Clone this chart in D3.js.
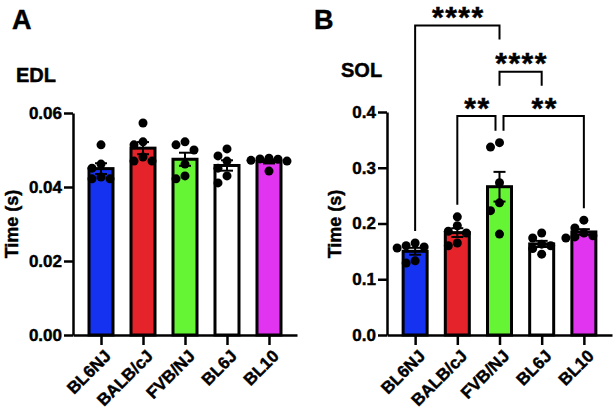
<!DOCTYPE html>
<html><head><meta charset="utf-8">
<script src="https://cdn.jsdelivr.net/npm/d3@7"></script>
<style>
body{margin:0;background:#fff}
text{font-family:"Liberation Sans",Arial,Helvetica,sans-serif;font-weight:bold;fill:#000;stroke:#000;stroke-width:0.45px}
</style>
</head><body>
<svg id="chart" width="614" height="413"></svg>
<script>
// ---------- data ----------
const categories = ["BL6NJ", "BALB/cJ", "FVB/NJ", "BL6J", "BL10"];
const barColors = ["#1432f0", "#e4232a", "#66f534", "#ffffff", "#e034f0"];

const edlBL6NJ  = [0.0514, 0.0462, 0.0451, 0.0427, 0.0422, 0.0422];
const edlBALB   = [0.0573, 0.0522, 0.0514, 0.0481, 0.0470, 0.0470];
const edlFVB    = [0.0522, 0.0514, 0.0500, 0.0462, 0.0430, 0.0422];
const edlBL6J   = [0.0503, 0.0484, 0.0470, 0.0451, 0.0430, 0.0411];
const edlBL10   = [0.0478, 0.0476, 0.0475, 0.0472, 0.0470, 0.0443];

const solBL6NJ  = [0.165, 0.160, 0.158, 0.156, 0.133, 0.129];
const solBALB   = [0.212, 0.196, 0.186, 0.183, 0.165, 0.160];
const solFVB    = [0.345, 0.337, 0.273, 0.237, 0.223, 0.181];
const solBL6J   = [0.183, 0.174, 0.163, 0.160, 0.155, 0.145];
const solBL10   = [0.206, 0.192, 0.183, 0.178, 0.176, 0.174];

const edlTicks = [0, 0.02, 0.04, 0.06];
const solTicks = [0, 0.1, 0.2, 0.3, 0.4];

// significance comparisons (group indices, label, bracket height in data units)
const solComparisons = [
  {a: 0, b: 2, label: "****", level: 0.555},
  {a: 2, b: 3, label: "****", level: 0.472},
  {a: 1, b: 2, label: "**",   level: 0.393},
  {a: 2, b: 4, label: "**",   level: 0.393}
];

// ---------- drawing ----------
const svg = d3.select("#chart");
const R = 4.5;

function panel(o) {
  const g = svg.append("g");
  const x = d3.scalePoint().domain(categories).range([o.x0, o.x1]).padding(0.667);
  const y = d3.scaleLinear().domain([0, o.max]).range([335, o.yTop]);
  const bw = 24;

  const groups = o.data.map((vals, i) => {
    const m = d3.mean(vals);
    const sem = d3.deviation(vals) / Math.sqrt(vals.length);
    return {cat: categories[i], vals, m, sem, color: barColors[i]};
  });

  // bars
  g.selectAll("rect.bar").data(groups).join("rect")
    .attr("x", d => x(d.cat) - bw / 2)
    .attr("y", d => y(d.m))
    .attr("width", bw)
    .attr("height", d => y(0) - y(d.m))
    .attr("fill", d => d.color)
    .attr("stroke", "#000").attr("stroke-width", 3);

  // error bars
  const eb = g.selectAll("g.eb").data(groups).join("g");
  eb.append("line")
    .attr("x1", d => x(d.cat)).attr("x2", d => x(d.cat))
    .attr("y1", d => y(d.m - d.sem)).attr("y2", d => y(d.m + d.sem))
    .attr("stroke", "#000").attr("stroke-width", 2);
  eb.selectAll("line.cap").data(d => [d.m - d.sem, d.m + d.sem].map(v => ({cat: d.cat, v})))
    .join("line")
    .attr("x1", d => x(d.cat) - 6).attr("x2", d => x(d.cat) + 6)
    .attr("y1", d => y(d.v)).attr("y2", d => y(d.v))
    .attr("stroke", "#000").attr("stroke-width", 2);

  // dots (simple deterministic beeswarm)
  groups.forEach(gr => {
    const placed = [];
    const sorted = gr.vals.slice().sort((a, b) => b - a);
    sorted.forEach(v => {
      const cy = y(v);
      const offs = [0, -2 * R, 2 * R, -4 * R, 4 * R];
      let dx = 0;
      for (const off of offs) {
        if (placed.every(p => Math.hypot(p.dx - off, p.cy - cy) >= 2 * R * 0.95)) { dx = off; break; }
      }
      placed.push({dx, cy});
    });
    g.selectAll(null).data(placed).join("circle")
      .attr("cx", p => x(gr.cat) + p.dx).attr("cy", p => p.cy)
      .attr("r", R).attr("fill", "#000");
  });

  // y axis
  const ya = g.append("g").attr("transform", `translate(${o.x0},0)`)
    .call(d3.axisLeft(y).tickValues(o.ticks).tickFormat(d3.format(o.fmt)).tickSize(9).tickSizeOuter(0).tickPadding(2));
  ya.select(".domain").attr("stroke-width", 2.5);
  ya.selectAll(".tick line").attr("stroke-width", 2.5);
  ya.selectAll(".tick text").style("font-size", "17px").attr("font-family", null);

  // x axis
  const xa = g.append("g").attr("transform", "translate(0,335)")
    .call(d3.axisBottom(x).tickSize(10).tickSizeOuter(0).tickFormat(""));
  xa.select(".domain").attr("stroke-width", 2.5);
  xa.selectAll(".tick line").attr("stroke-width", 2.5);
  g.selectAll("text.xl").data(categories).join("text")
    .attr("text-anchor", "end")
    .style("font-size", "17px")
    .attr("transform", d => `translate(${x(d) + 11},${357}) rotate(-45)`)
    .text(d => d);

  // axis title
  g.append("text").attr("text-anchor", "middle").style("font-size", "18px")
    .attr("transform", `translate(${o.titleX},${224}) rotate(-90)`).text("Time (s)");

  // panel letter & muscle name
  g.append("text").attr("x", o.letterX).attr("y", 29).style("font-size", "27px").text(o.letter);
  g.append("text").attr("x", o.nameX).attr("y", o.nameY).style("font-size", "20px").text(o.name);

  return {g, x, y, groups};
}

panel({x0: 73, x1: 297, max: 0.06, yTop: 113, data: [edlBL6NJ, edlBALB, edlFVB, edlBL6J, edlBL10],
  ticks: edlTicks, fmt: ".2f", titleX: 18, letter: "A", letterX: 12, name: "EDL", nameX: 16, nameY: 82});

const pB = panel({x0: 387, x1: 612, max: 0.4, yTop: 112, data: [solBL6NJ, solBALB, solFVB, solBL6J, solBL10],
  ticks: solTicks, fmt: ".1f", titleX: 341, letter: "B", letterX: 314, name: "SOL", nameX: 341, nameY: 77});

// significance brackets
(function () {
  const {g, x, y, groups} = pB;
  const fs = 30;
  solComparisons.forEach((c, ci) => {
    const ly = y(c.level);
    const ends = [c.a, c.b].map((gi, side) => {
      let px = x(categories[gi]);
      // offset when another bracket at same level shares this end
      const share = solComparisons.some((o, oi) => oi !== ci && o.level === c.level && (o.a === gi || o.b === gi));
      if (share) px += side === 0 ? 4 : -4;
      // short leg if a lower bracket spans this x
      const blocked = solComparisons.some(o => o.level < c.level &&
        x(categories[o.a]) - 5 <= px && px <= x(categories[o.b]) + 5);
      const bottom = blocked ? ly + 14 : y(d3.max(groups[gi].vals)) - 12;
      return {px, bottom};
    });
    g.append("path")
      .attr("d", `M${ends[0].px},${ends[0].bottom}V${ly}H${ends[1].px}V${ends[1].bottom}`)
      .attr("fill", "none").attr("stroke", "#000").attr("stroke-width", 2);
    g.append("text").attr("text-anchor", "middle").style("font-size", fs + "px")
      .style("letter-spacing", "1.5px")
      .attr("x", (ends[0].px + ends[1].px) / 2 + 1)
      .attr("y", ly - 14 + 0.52 * fs)
      .text(c.label);
  });
})();
</script>
</body></html>
